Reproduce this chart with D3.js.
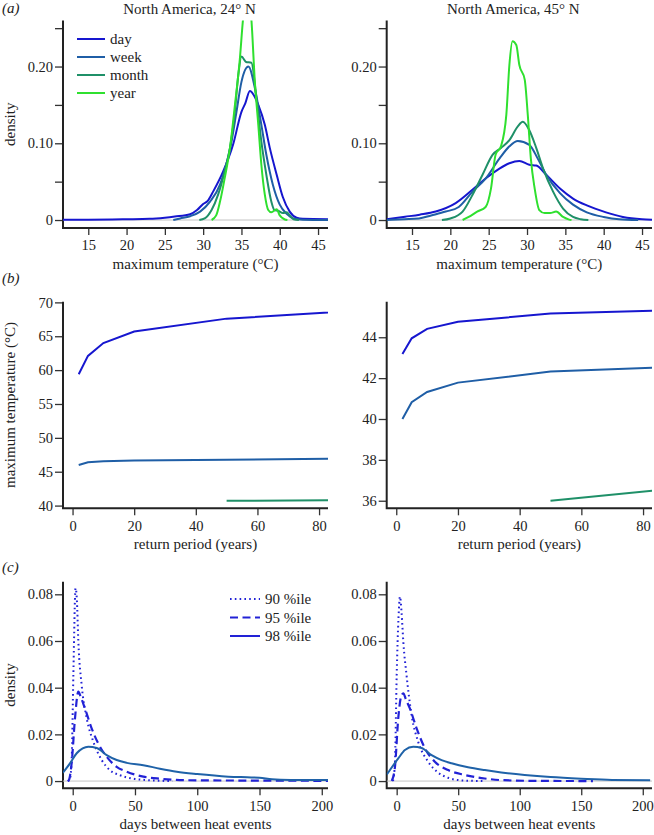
<!DOCTYPE html>
<html><head><meta charset="utf-8">
<script src="https://cdn.jsdelivr.net/npm/d3@7"></script>
<style>body{margin:0;background:#fff}svg{display:block}text{font-family:"Liberation Serif","Times New Roman",serif;fill:#222}</style>
</head><body><svg id="c" width="654" height="835"></svg>
<script>
// ---------- Panel (a) : density of maximum temperature ----------
const seriesNames = ["day", "week", "month", "year"];
const titles = ["North America, 24\u00b0 N", "North America, 45\u00b0 N"];
const tempTicks = [15, 20, 25, 30, 35, 40, 45];
const densATicks = [0, 0.05, 0.10, 0.15, 0.20, 0.25];
const densALabelled = [0, 0.10, 0.20];

const day24 = [[11.7,0.0005],[15,0.0005],[20,0.001],[23,0.0015],[25,0.003],[26.3,0.0045],[28.3,0.0075],[29.2,0.013],[30,0.021],[30.6,0.025],[31.3,0.037],[32.6,0.063],[33.9,0.098],[35.0,0.141],[35.5,0.152],[36.1,0.168],[36.6,0.163],[37.2,0.150],[38.05,0.124],[38.7,0.094],[39.6,0.059],[40.4,0.030],[41.3,0.011],[42.2,0.003],[43,0.0015],[46.3,0.001]];
const week24 = [[26.1,0],[27,0.002],[28.3,0.005],[29.6,0.011],[30.9,0.024],[32.2,0.046],[33.05,0.074],[33.7,0.102],[34.35,0.141],[35.0,0.180],[35.9,0.200],[36.75,0.172],[37.6,0.124],[38.25,0.085],[39.1,0.046],[40.0,0.020],[40.9,0.008],[41.8,0.002],[43,0.0005],[46.3,0]];
const month24 = [[29.5,0],[30.2,0.002],[31.1,0.013],[31.95,0.033],[32.8,0.063],[33.5,0.094],[34.1,0.137],[34.6,0.190],[35.0,0.213],[35.6,0.206],[36.3,0.205],[36.95,0.159],[37.6,0.102],[38.25,0.059],[38.9,0.024],[39.3,0.013],[39.8,0.012],[40.4,0.009],[40.9,0.010],[41.3,0.006],[41.8,0.001],[42.5,0]];
const year24 = [[31.1,0],[31.7,0.006],[32.2,0.024],[32.8,0.054],[33.5,0.094],[34.15,0.150],[34.8,0.211],[35.2,0.261],[35.75,0.300],[36.3,0.261],[36.75,0.180],[37.2,0.124],[37.6,0.072],[38.05,0.033],[38.5,0.013],[38.9,0.010],[39.6,0.014],[40.0,0.006],[40.6,0.001],[41,0]];

const day45 = [[11.7,0.001],[14.1,0.0043],[16,0.007],[18.1,0.011],[20.7,0.022],[23.3,0.043],[24.6,0.054],[26.4,0.067],[27.7,0.074],[29.0,0.077],[30.3,0.072],[31.2,0.071],[32.5,0.059],[34.3,0.041],[36.0,0.028],[37.8,0.019],[40.3,0.010],[42.5,0.004],[45,0.001],[46.3,0.0005]];
const week45 = [[11.7,0],[14,0.001],[15.9,0.002],[17.5,0.006],[19.4,0.011],[21.1,0.017],[22.9,0.037],[24.6,0.054],[26.4,0.080],[27.7,0.096],[28.8,0.103],[30.3,0.098],[31.4,0.080],[32.5,0.059],[34.3,0.035],[36.0,0.020],[37.8,0.010],[40,0.004],[42,0.001],[44.5,0]];
const month45 = [[18.9,0],[20,0.002],[21.6,0.011],[22.9,0.033],[24.2,0.059],[25.5,0.085],[26.6,0.094],[27.7,0.104],[28.8,0.122],[29.45,0.128],[30.3,0.117],[31.2,0.094],[32.1,0.067],[33.4,0.037],[34.7,0.015],[36.0,0.004],[37,0.001],[38,0]];
const year45 = [[21.6,0],[22.4,0.004],[23.5,0.011],[24.6,0.017],[25.3,0.041],[25.9,0.085],[26.6,0.096],[27.3,0.137],[27.7,0.202],[28.1,0.233],[28.6,0.228],[29.0,0.202],[29.7,0.183],[30.1,0.137],[30.5,0.080],[31.0,0.041],[31.6,0.013],[32.3,0.009],[33.0,0.009],[33.8,0.011],[34.7,0.004],[35.5,0.0005],[35.8,0]];

// ---------- Panel (b) : return levels ----------
const returnPeriods = [2, 5, 10, 20, 50, 100];
const rl24Day   = [59.4, 62.1, 64.0, 65.7, 67.6, 68.96];
const rl24Week  = [46.0, 46.4, 46.55, 46.65, 46.75, 46.98];
const rl24Month = [null, null, null, null, 40.7, 40.85];
const rl45Day   = [43.18, 43.95, 44.41, 44.76, 45.16, 45.37];
const rl45Week  = [40.0, 40.82, 41.32, 41.78, 42.32, 42.61];
const rl45Month = [null, null, null, null, 36.0, 36.74];
const periodTicks = [0, 20, 40, 60, 80];
const rl24Ticks = [40, 45, 50, 55, 60, 65, 70];
const rl45Ticks = [36, 38, 40, 42, 44];

// ---------- Panel (c) : days between heat events ----------
const pctNames = ["90 %ile", "95 %ile", "98 %ile"];
const gap90L = [[-4,0],[-2.2,0.001],[-0.8,0.0097],[0.5,0.045],[2.3,0.0826],[3.3,0.078],[4.5,0.060],[7.2,0.041],[11.2,0.027],[16.6,0.0168],[23.3,0.009],[30,0.0046],[38,0.0025],[48.7,0.001],[60,0.0004],[80,0]];
const gap95L = [[-4,0],[-3,0.0005],[-0.8,0.008],[1.85,0.027],[4.5,0.0383],[6.5,0.036],[9.9,0.031],[15.2,0.0226],[20.6,0.016],[27.3,0.0104],[35.3,0.0061],[43.4,0.004],[56.7,0.0019],[70,0.001],[83,0.0005],[100,0.0003],[150,0.0002],[206,0.0001]];
const gap98L = [[-8,0.0035],[-2.2,0.0076],[3.2,0.0119],[8,0.014],[12.5,0.0147],[19.3,0.0142],[27.3,0.0111],[35.3,0.009],[43.4,0.0078],[56.7,0.0068],[70,0.0053],[83.5,0.0040],[100,0.0030],[125,0.0019],[140,0.0016],[150,0.0014],[160,0.0008],[175,0.0005],[206,0.0004]];
const gap90R = [[-3,0],[-1.4,0.008],[0,0.045],[1.5,0.070],[2.7,0.079],[4,0.072],[5.4,0.0597],[8.1,0.045],[12.2,0.028],[17.5,0.0168],[25.6,0.0083],[33.7,0.0036],[41.8,0.0014],[52.6,0.0003],[70,0]];
const gap95R = [[-4,0],[-1.4,0.006],[1.3,0.027],[3.5,0.036],[5.4,0.0376],[7.5,0.035],[10.8,0.031],[16.2,0.0226],[23,0.014],[31,0.0083],[41.9,0.0047],[55.4,0.0026],[71.6,0.0011],[85,0.0004],[110,0.0001],[159.5,0]];
const gap98R = [[-8,0.0028],[1.3,0.0097],[6.7,0.0133],[13.5,0.0147],[20.3,0.0142],[28.4,0.0111],[36.5,0.009],[44.6,0.0076],[58,0.0059],[71.6,0.0047],[85,0.0037],[104,0.0026],[125,0.0017],[150,0.0010],[175,0.0005],[206,0.0004]];
const dayTicks = [0, 50, 100, 150, 200];
const densCTicks = [0, 0.02, 0.04, 0.06, 0.08];

// ---------- styling / layout ----------
const seriesColors = ["#1616cf", "#1f5ea6", "#1f9068", "#2fe02f"];
const pctColor = "#2222d6";
const solidCColor = "#1f62a8";
const cols = [[63, 328], [386.7, 652]];
const rows = {a:[20.5, 228], b:[301.7, 508.3], c:[581.7, 788.3]};

const svg = d3.select("#c");
let clipId = 0;

function fmtDens(v){ return v === 0 ? "0" : d3.format(".2f")(v); }

function panel(ci, row, xs, ys, xTicks, yTicks, yFmt, xLabel){
  const [x0, x1] = cols[ci], [yt, yb] = rows[row];
  const x = d3.scaleLinear().domain(xs).range([x0, x1]);
  const y = d3.scaleLinear().domain(ys).range([yb, yt]);
  const g = svg.append("g");
  const id = "clip" + (clipId++);
  g.append("clipPath").attr("id", id).append("rect")
    .attr("x", x0).attr("y", yt).attr("width", x1 - x0).attr("height", yb - yt);
  const ax = g.append("g").attr("transform", `translate(0,${yb})`)
    .call(d3.axisBottom(x).tickValues(xTicks).tickSize(7).tickPadding(5).tickFormat(d3.format("d")));
  const ay = g.append("g").attr("transform", `translate(${x0},0)`)
    .call(d3.axisLeft(y).tickValues(yTicks).tickSize(8).tickPadding(2).tickFormat(yFmt));
  [ax, ay].forEach(a => {
    a.select(".domain").remove();
    a.selectAll("line").attr("stroke", "#333").attr("stroke-width", 1.3);
    a.selectAll("text").attr("font-size", 14.5).attr("fill", "#222").style("font-family", '"Liberation Serif",serif');
  });
  g.append("path").attr("d", `M${x0},${yt}V${yb}H${x1}`).attr("fill", "none")
    .attr("stroke", "#222").attr("stroke-width", 2);
  g.append("text").attr("x", (x0 + x1) / 2).attr("y", yb + 41).attr("text-anchor", "middle")
    .attr("font-size", 15).text(xLabel);
  const plot = g.append("g").attr("clip-path", `url(#${id})`);
  return {x, y, plot, g, ax};
}

function drawLine(p, data, color, width, dash){
  const line = d3.line().defined(d => d[1] != null).x(d => p.x(d[0])).y(d => p.y(d[1])).curve(d3.curveMonotoneX);
  p.plot.append("path").datum(data).attr("d", line).attr("fill", "none")
    .attr("stroke", color).attr("stroke-width", width).attr("stroke-linejoin", "round")
    .attr("stroke-dasharray", dash || null);
}
function zeroLine(p){
  p.plot.append("line").attr("x1", p.x.range()[0]).attr("x2", p.x.range()[1])
    .attr("y1", p.y(0)).attr("y2", p.y(0)).attr("stroke", "#c4c4c4").attr("stroke-width", 1);
}

// ----- (a)
const aData = [[day24, week24, month24, year24], [day45, week45, month45, year45]];
aData.forEach((set, ci) => {
  const p = panel(ci, "a", [11.7, 46.3], [-0.0104, 0.26], tempTicks, densATicks,
    v => densALabelled.some(l => Math.abs(l - v) < 1e-9) ? fmtDens(v) : "", "maximum temperature (\u00b0C)");
  zeroLine(p);
  set.forEach((s, i) => drawLine(p, s, seriesColors[i], 2));
  svg.append("text").attr("x", (cols[ci][0] + cols[ci][1]) / 2 - 6).attr("y", 14)
    .attr("text-anchor", "middle").attr("font-size", 15).text(titles[ci]);
  if (ci === 0) {
    const lg = svg.append("g");
    seriesNames.forEach((n, i) => {
      const yy = 39 + i * 18;
      lg.append("line").attr("x1", 77).attr("x2", 105).attr("y1", yy).attr("y2", yy)
        .attr("stroke", seriesColors[i]).attr("stroke-width", 2);
      lg.append("text").attr("x", 110).attr("y", yy + 5).attr("font-size", 15).text(n);
    });
  }
});

// ----- (b)
const bSets = [
  {vals:[rl24Day, rl24Week, rl24Month], dom:[39.6, 70.1], ticks:rl24Ticks},
  {vals:[rl45Day, rl45Week, rl45Month], dom:[35.63, 45.74], ticks:rl45Ticks}
];
bSets.forEach((b, ci) => {
  const p = panel(ci, "b", [-3.1, 82.9], b.dom, periodTicks, b.ticks, d3.format("d"), "return period (years)");
  b.vals.forEach((v, i) => {
    const data = returnPeriods.map((r, k) => [r, v[k]]);
    const line = d3.line().defined(d => d[1] != null).x(d => p.x(d[0])).y(d => p.y(d[1]));
    p.plot.append("path").datum(data).attr("d", line).attr("fill", "none")
      .attr("stroke", seriesColors[i]).attr("stroke-width", 2);
  });
});

// ----- (c)
const cSets = [[gap90L, gap95L, gap98L], [gap90R, gap95R, gap98R]];
const cDomains = [[-7.8, 205], [-8.1, 207.5]];
const cStyles = [{c:pctColor, w:2, d:"1.6 3.2"}, {c:pctColor, w:2.2, d:"8 4.5"}, {c:solidCColor, w:2, d:null}];
cSets.forEach((set, ci) => {
  const p = panel(ci, "c", cDomains[ci], [-0.0031, 0.0854], dayTicks, densCTicks, fmtDens, "days between heat events");
  zeroLine(p);
  set.forEach((s, i) => drawLine(p, s, cStyles[i].c, cStyles[i].w, cStyles[i].d));
  if (ci === 1) {
    // last tick label sits flush with the right edge of the picture
    p.ax.selectAll(".tick text").filter(d => d === 200).attr("text-anchor", "end").attr("dx", "10.5");
  }
  if (ci === 0) {
    const lg = svg.append("g");
    pctNames.forEach((n, i) => {
      const yy = 599 + i * 18.5;
      lg.append("line").attr("x1", 230).attr("x2", 260).attr("y1", yy).attr("y2", yy)
        .attr("stroke", pctColor).attr("stroke-width", 2).attr("stroke-dasharray", [ "1.6 3.2", "8 4.5", null][i]);
      lg.append("text").attr("x", 265).attr("y", yy + 5).attr("font-size", 15).text(n);
    });
  }
});

// y-axis titles and panel letters
[["density", (rows.a[0] + rows.a[1]) / 2], ["maximum temperature (\u00b0C)", (rows.b[0] + rows.b[1]) / 2], ["density", (rows.c[0] + rows.c[1]) / 2]]
  .forEach(([t, cy]) => {
    svg.append("text").attr("transform", `translate(15,${cy}) rotate(-90)`).attr("text-anchor", "middle")
      .attr("font-size", 15).text(t);
  });
[["(a)", 13], ["(b)", 283], ["(c)", 572]].forEach(([t, yy]) => {
  svg.append("text").attr("x", 2).attr("y", yy).attr("font-size", 15).attr("font-style", "italic").text(t);
});
</script></body></html>
